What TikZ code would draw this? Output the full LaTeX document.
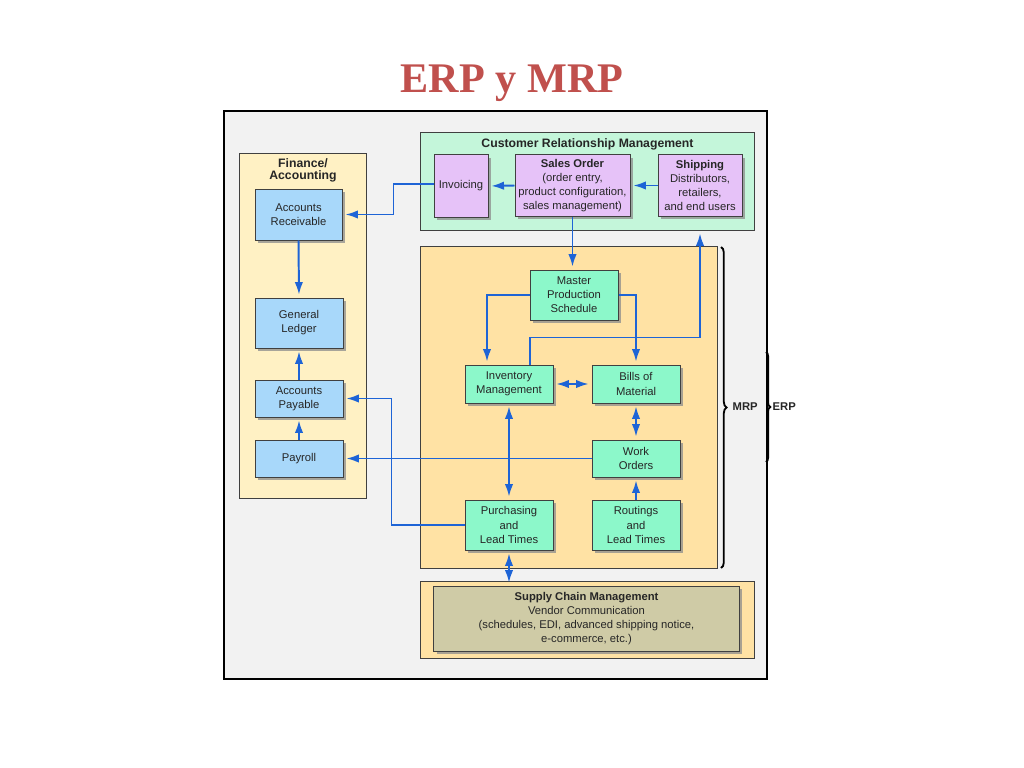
\documentclass[tikz,border=0pt]{standalone}
\usepackage{fontspec}
\setmainfont{Liberation Sans}
\newfontfamily\titlefont{Liberation Serif}
\usetikzlibrary{
arrows.meta,
shadows,
positioning,
decorations.pathreplacing
}
\definecolor{titlered}{HTML}{C0504D}
\definecolor{pagegray}{HTML}{F2F2F2}
\definecolor{finyellow}{HTML}{FFF1C4}
\definecolor{crmmint}{HTML}{C4F6DA}
\definecolor{mrporange}{HTML}{FFE2A4}
\definecolor{acctblue}{HTML}{A8D8FA}
\definecolor{salespurple}{HTML}{E6C2F8}
\definecolor{mrpgreen}{HTML}{8CF8CA}
\definecolor{scmolive}{HTML}{CFCBA6}
\definecolor{arrowblue}{HTML}{1E64D6}
\tikzset{
  flow/.style={-{Latex[length=9pt,width=6pt]}, line width=1.4pt, draw=arrowblue, shorten >=2pt},
  flowboth/.style={{Latex[length=9pt,width=6pt]}-{Latex[length=9pt,width=6pt]}, line width=1.4pt, draw=arrowblue, shorten >=2pt, shorten <=2pt},
  group/.style={draw=black!75, line width=0.7pt, inner sep=0pt},
  module/.style={draw=black!75, line width=0.7pt, inner sep=0pt, align=center,
    text=black!85, font=\fontsize{8}{10}\selectfont,
    minimum width=2.2cm, minimum height=1.25cm,
    drop shadow={shadow xshift=2.2pt, shadow yshift=-2.2pt, fill=black!45, opacity=0.75}},
  grouptitle/.style={align=center, font=\bfseries\fontsize{8.7}{8.6}\selectfont, text=black!85}
}
\begin{document}
\begin{tikzpicture}[x=0.025cm, y=-0.025cm]
    \useasboundingbox[fill=white] (0,0) rectangle (1024,768);
    \node [font=\titlefont\bfseries\fontsize{30}{34}\selectfont, text=titlered] (title) at (512,83) {ERP y MRP};
    \node [group, draw=black, line width=1.5pt, fill=pagegray, minimum width=13.575cm, minimum height=14.2cm] (erp) at (495.5,395) {};
    \node [group, fill=finyellow, minimum width=3.15cm, minimum height=8.6cm] (fin) at (303,326) {};
    \node [group, fill=crmmint, minimum width=8.325cm, minimum height=2.425cm] (crm) at (587.5,181.5) {};
    \node [group, fill=mrporange, minimum width=7.4cm, minimum height=8.025cm] (mrp) at (569,407.5) {};
    \node [group, fill=mrporange, minimum width=8.325cm, minimum height=1.925cm] (scmbox) at (587.5,619.5) {};
    \node [grouptitle] (fintitle) at (303,170) {Finance/\\Accounting};
    \node [grouptitle] (crmtitle) at (587.5,144) {Customer Relationship Management};
    \node [module, fill=acctblue, minimum width=2.175cm, minimum height=1.275cm] (ar) at (298.5,214.5) {Accounts\\Receivable};
    \node [module, fill=acctblue] (gl) at (299,323) {General\\Ledger};
    \node [module, fill=acctblue, minimum height=0.925cm] (ap) at (299,398.5) {Accounts\\Payable};
    \node [module, fill=acctblue, minimum height=0.925cm] (payroll) at (299,458.5) {Payroll};
    \node [module, fill=salespurple, minimum width=1.35cm, minimum height=1.55cm] (invoicing) at (461,186) {Invoicing};
    \node [module, fill=salespurple, minimum width=2.875cm, minimum height=1.525cm] (salesorder) at (572.5,185.5) {\textbf{Sales Order}\\(order entry,\\product configuration,\\sales management)};
    \node [module, fill=salespurple, minimum width=2.1cm, minimum height=1.525cm] (shipping) at (700,185.5) {\textbf{Shipping}\\Distributors,\\retailers,\\and end users};
    \node [module, fill=mrpgreen] (mps) at (574,295) {Master\\Production\\Schedule};
    \node [module, fill=mrpgreen, minimum height=0.95cm] (inventory) at (509,384) {Inventory\\Management};
    \node [module, fill=mrpgreen, minimum height=0.95cm] (bom) at (636,384) {Bills of\\Material};
    \node [module, fill=mrpgreen, minimum height=0.925cm] (workorders) at (636,458.5) {Work\\Orders};
    \node [module, fill=mrpgreen] (purchasing) at (509,525) {Purchasing\\and\\Lead Times};
    \node [module, fill=mrpgreen] (routings) at (636,525) {Routings\\and\\Lead Times};
    \node [module, fill=scmolive, minimum width=7.625cm, minimum height=1.625cm] (scm) at (586.5,618.5) {\textbf{Supply Chain Management}\\Vendor Communication\\(schedules, EDI, advanced shipping notice,\\e-commerce, etc.)};
    \draw[flow] (shipping.west) -- (salesorder.east);
    \draw[flow] (salesorder.west) -- (invoicing.east);
    \draw[flow] ([shift={(0,-2)}]invoicing.west) -- ++(-40,0) |- (ar.east);
    \draw[flow] (salesorder.south) -- (salesorder.south |- mps.north);
    \draw[flow] (mps.west) -| ([shift={(-22,0)}]inventory.north);
    \draw[flow] (mps.east) -| (bom.north);
    \draw[flow] ([shift={(21,0)}]inventory.north) -- ++(0,-27) -| (shipping.south |- crm.south);
    \draw[flowboth] (inventory.east) -- (bom.west);
    \draw[flowboth] (bom.south) -- (workorders.north);
    \draw[flow] (routings.north) -- (workorders.south);
    \draw[flowboth] (inventory.south) -- (purchasing.north);
    \draw[flowboth] (purchasing.south) -- (purchasing.south |- scm.north);
    \draw[flow] (workorders.west) -- (payroll.east);
    \draw[flow] (purchasing.west) -- ++(-73,0) |- (ap.east);
    \draw[flow] (ar.south) -- (gl.north);
    \draw[flow] (ap.north) -- (gl.south);
    \draw[flow] (payroll.north) -- (ap.south);
    \draw[line width=1.3pt, decorate, decoration={brace, amplitude=4pt}] (721,247) -- (721,568);
    \draw[line width=1.3pt, decorate, decoration={brace, amplitude=3pt}] (766,352) -- (766,462);
    \node [right, inner sep=1pt, font=\bfseries\fontsize{8}{10}\selectfont, text=black!85] (mrplabel) at (731,407) {MRP};
    \node [right, inner sep=1pt, font=\bfseries\fontsize{8}{10}\selectfont, text=black!85] (erplabel) at (771,407) {ERP};
  \end{tikzpicture}
\end{document}
